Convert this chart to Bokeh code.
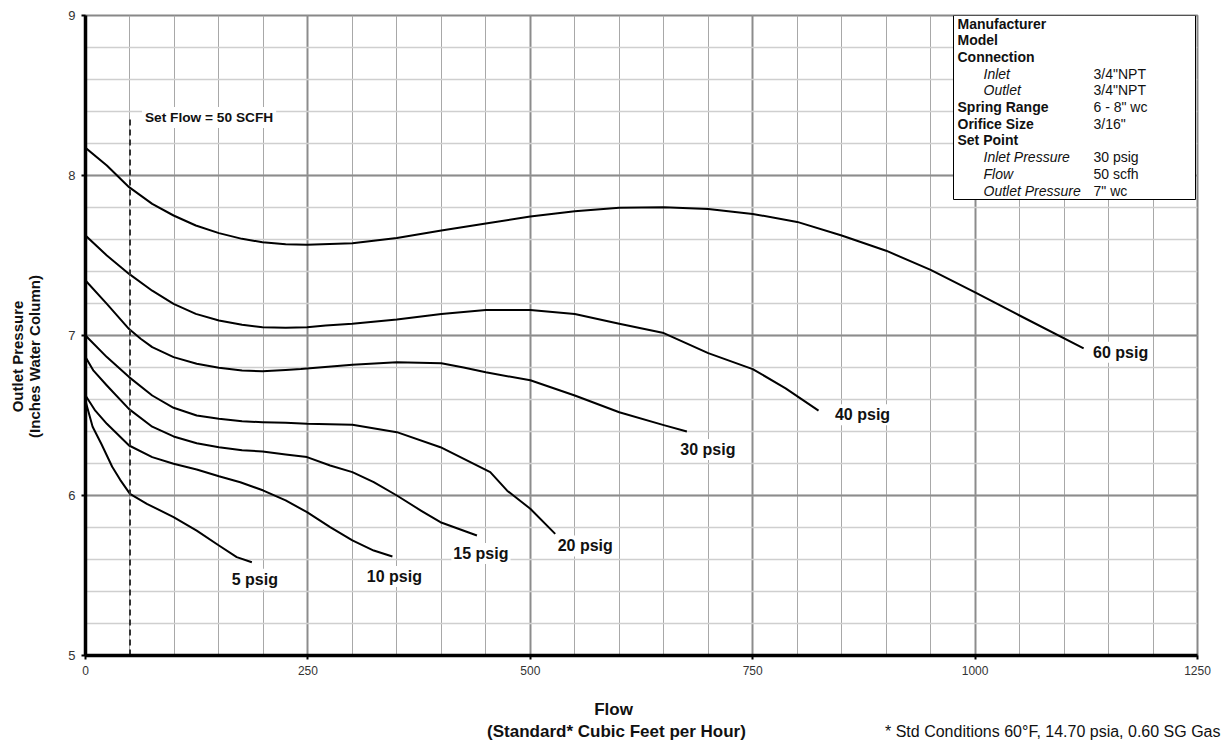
import math
from bokeh.plotting import figure
from bokeh.models import (ColumnDataSource, Label, BoxAnnotation,
                          SingleIntervalTicker, Range1d)
from bokeh.embed import file_html
from bokeh.resources import INLINE

# ---------------- data ----------------
flow_5 = [0, 8, 18, 30, 39, 50, 69, 99, 125, 150, 170, 187]
press_5 = [6.59, 6.43, 6.32, 6.18, 6.098, 6.01, 5.948, 5.865, 5.78, 5.6875, 5.615, 5.583]

flow_10 = [0, 11, 24, 49, 75, 99, 125, 150, 174, 200, 225, 249, 275, 300, 324, 345]
press_10 = [6.625, 6.53, 6.448, 6.3125, 6.24, 6.198, 6.1625, 6.12, 6.083, 6.031, 5.969,
            5.896, 5.802, 5.719, 5.656, 5.619]

flow_15 = [0, 9, 24, 49, 75, 99, 125, 150, 176, 199, 225, 249, 275, 300, 324, 350, 377, 399, 440]
press_15 = [6.865, 6.78, 6.6875, 6.54, 6.43, 6.369, 6.327, 6.302, 6.283, 6.275, 6.256,
            6.24, 6.1875, 6.146, 6.083, 6.0, 5.906, 5.833, 5.75]

flow_20 = [0, 24, 49, 75, 99, 125, 150, 176, 199, 225, 249, 300, 350, 399, 455, 474, 500, 528]
press_20 = [7.0, 6.865, 6.74, 6.625, 6.548, 6.50, 6.48, 6.464, 6.458, 6.454, 6.448,
            6.442, 6.396, 6.302, 6.146, 6.03, 5.917, 5.76]

flow_30 = [0, 24, 49, 62, 75, 99, 125, 150, 176, 199, 225, 242, 300, 350, 400, 425, 450,
           500, 550, 600, 650, 676]
press_30 = [7.344, 7.198, 7.04, 6.98, 6.927, 6.865, 6.823, 6.798, 6.781, 6.777, 6.785,
            6.79, 6.817, 6.833, 6.827, 6.80, 6.77, 6.72, 6.625, 6.52, 6.44, 6.40]

flow_40 = [0, 24, 49, 75, 99, 124, 150, 176, 199, 225, 249, 270, 300, 350, 400, 450, 500,
           550, 600, 650, 700, 750, 787, 824]
press_40 = [7.625, 7.5, 7.385, 7.28, 7.198, 7.135, 7.094, 7.067, 7.052, 7.048, 7.052,
            7.0625, 7.073, 7.10, 7.135, 7.16, 7.16, 7.135, 7.073, 7.015, 6.89, 6.79,
            6.67, 6.53]

flow_60 = [0, 24, 49, 75, 99, 124, 150, 176, 199, 225, 249, 300, 350, 400, 450, 500, 550,
           600, 650, 700, 750, 800, 850, 900, 950, 1000, 1050, 1122]
press_60 = [8.173, 8.0625, 7.927, 7.823, 7.75, 7.6875, 7.64, 7.604, 7.583, 7.571, 7.567,
            7.577, 7.61, 7.656, 7.70, 7.744, 7.777, 7.798, 7.802, 7.79, 7.76, 7.71,
            7.625, 7.53, 7.41, 7.27, 7.125, 6.92]

curve_names = ["5 psig", "10 psig", "15 psig", "20 psig", "30 psig", "40 psig", "60 psig"]
curve_flows = [flow_5, flow_10, flow_15, flow_20, flow_30, flow_40, flow_60]
curve_press = [press_5, press_10, press_15, press_20, press_30, press_40, press_60]

set_flow = 50

spec_labels = ["Manufacturer", "Model", "Connection", "Inlet", "Outlet",
               "Spring Range", "Orifice Size", "Set Point", "Inlet Pressure",
               "Flow", "Outlet Pressure"]
spec_values = ["", "", "", "3/4\"NPT", "3/4\"NPT", "6 - 8\" wc", "3/16\"", "",
               "30 psig", "50 scfh", "7\" wc"]
spec_indent = [False, False, False, True, True, False, False, False, True, True, True]

x_title_1 = "Flow"
x_title_2 = "(Standard* Cubic Feet per Hour)"
y_title_1 = "Outlet Pressure"
y_title_2 = "(Inches Water Column)"
footnote = "* Std Conditions 60\u00b0F, 14.70 psia, 0.60 SG Gas"
set_flow_text = "Set Flow = 50 SCFH"

# ---------------- layout helpers ----------------
X0, X1, Y0, Y1 = 0, 1250, 5, 9
FL, FR, FT, FB = 85, 1197, 15, 655   # frame in canvas px
W, H = 1224, 742


def dx(px):
    return X0 + (px - FL) * (X1 - X0) / (FR - FL)


def dy(py):
    return Y1 - (py - FT) * (Y1 - Y0) / (FB - FT)


FONT = "Liberation Sans"
NARROW = "'Liberation Sans Narrow', 'Liberation Sans'"
TXT = "#111111"

p = figure(width=W, height=H, output_backend="svg", toolbar_location=None,
           x_range=Range1d(X0, X1), y_range=Range1d(Y0, Y1),
           min_border_left=FL, min_border_right=W - FR, min_border_top=FT,
           min_border_bottom=H - FB)
p.background_fill_color = "white"
p.border_fill_color = "white"
p.outline_line_color = "#888888"
p.outline_line_width = 2

p.xaxis.ticker = SingleIntervalTicker(interval=250, num_minor_ticks=5)
p.yaxis.ticker = SingleIntervalTicker(interval=1, num_minor_ticks=5)
p.xgrid.ticker = p.xaxis.ticker
p.ygrid.ticker = p.yaxis.ticker

for g in (p.xgrid, p.ygrid):
    g.grid_line_color = "#8c8c8c"
    g.grid_line_width = 2
    g.minor_grid_line_width = 1
p.xgrid.minor_grid_line_color = "#a8a8a8"
p.ygrid.minor_grid_line_color = "#cfcfcf"
p.ygrid.minor_grid_line_width = 1.5

for ax in (p.xaxis, p.yaxis):
    ax.axis_line_color = "black"
    ax.axis_line_width = 3.5
    ax.major_tick_line_color = "black"
    ax.major_tick_line_width = 2
    ax.major_tick_out = 4
    ax.major_tick_in = 0
    ax.minor_tick_line_color = None
    ax.major_label_text_color = "#333333"
p.yaxis.major_label_text_font = FONT
p.yaxis.major_label_text_font_size = "13px"
p.yaxis.major_label_standoff = 6
p.xaxis.major_label_text_font = NARROW
p.xaxis.major_label_text_font_size = "12px"
p.xaxis.major_label_standoff = 6

# ---------------- curves ----------------
label_offsets = [(3, -17), (2, -20), (4, -18), (30, -12), (21, -18), (44, -4), (37, -4)]
for name, fx, py_, off in zip(curve_names, curve_flows, curve_press, label_offsets):
    src = ColumnDataSource(dict(x=fx, y=py_))
    p.line("x", "y", source=src, line_color="black", line_width=2,
           line_join="round")
    p.add_layout(Label(x=fx[-1], y=py_[-1], x_offset=off[0], y_offset=off[1],
                       text=name, text_align="center", text_baseline="middle",
                       text_font=FONT, text_font_style="bold",
                       text_font_size="16px", text_color=TXT,
                       background_fill_color="white", padding=2))

# set flow dashed line
set_top = dy(117)
p.segment(x0=[set_flow], y0=[Y0], x1=[set_flow], y1=[set_top],
          line_color="#333333", line_width=2, line_dash="6 4")
p.add_layout(Label(x=set_flow, y=set_top, x_offset=12, text=set_flow_text,
                   text_align="left", text_baseline="middle",
                   text_font=FONT, text_font_style="bold",
                   text_font_size="13.7px", text_color=TXT,
                   background_fill_color="white", padding=3))

# ---------------- spec box ----------------
p.add_layout(BoxAnnotation(left=dx(953), right=dx(1195), top=Y1, bottom=dy(199),
                           fill_color="white", fill_alpha=1.0,
                           line_color="black", line_width=1, line_alpha=1.0,
                           level="annotation"))
for i, (lab, val, ind) in enumerate(zip(spec_labels, spec_values, spec_indent)):
    yy = dy(23 + 16.7 * i)
    p.add_layout(Label(x=dx(983 if ind else 957), y=yy, text=lab,
                       text_align="left", text_baseline="middle",
                       text_font=FONT,
                       text_font_style="italic" if ind else "bold",
                       text_font_size="14px", text_color=TXT))
    if val:
        p.add_layout(Label(x=dx(1093), y=yy, text=val,
                           text_align="left", text_baseline="middle",
                           text_font=FONT, text_font_size="14px",
                           text_color=TXT))

# ---------------- titles outside the frame (side panels) ----------------
p.add_layout(Label(x=dx(613), y=dy(709), text=x_title_1, text_align="center",
                   text_baseline="middle", text_font=FONT, text_font_style="bold",
                   text_font_size="17px", text_color=TXT), "below")
p.add_layout(Label(x=dx(616), y=dy(731), text=x_title_2, text_align="center",
                   text_baseline="middle", text_font=FONT, text_font_style="bold",
                   text_font_size="17px", text_color=TXT), "below")
p.add_layout(Label(x=dx(1220), y=dy(731), text=footnote, text_align="right",
                   text_baseline="middle", text_font=FONT,
                   text_font_size="16px", text_color=TXT), "below")
p.add_layout(Label(x=dx(17), y=dy(356), text=y_title_1, angle=math.pi / 2,
                   text_align="center", text_baseline="middle", text_font=FONT,
                   text_font_style="bold", text_font_size="15px",
                   text_color=TXT), "left")
p.add_layout(Label(x=dx(34), y=dy(356), text=y_title_2, angle=math.pi / 2,
                   text_align="center", text_baseline="middle", text_font=FONT,
                   text_font_style="bold", text_font_size="15px",
                   text_color=TXT), "left")

open("out.html", "w").write(file_html(p, INLINE))
